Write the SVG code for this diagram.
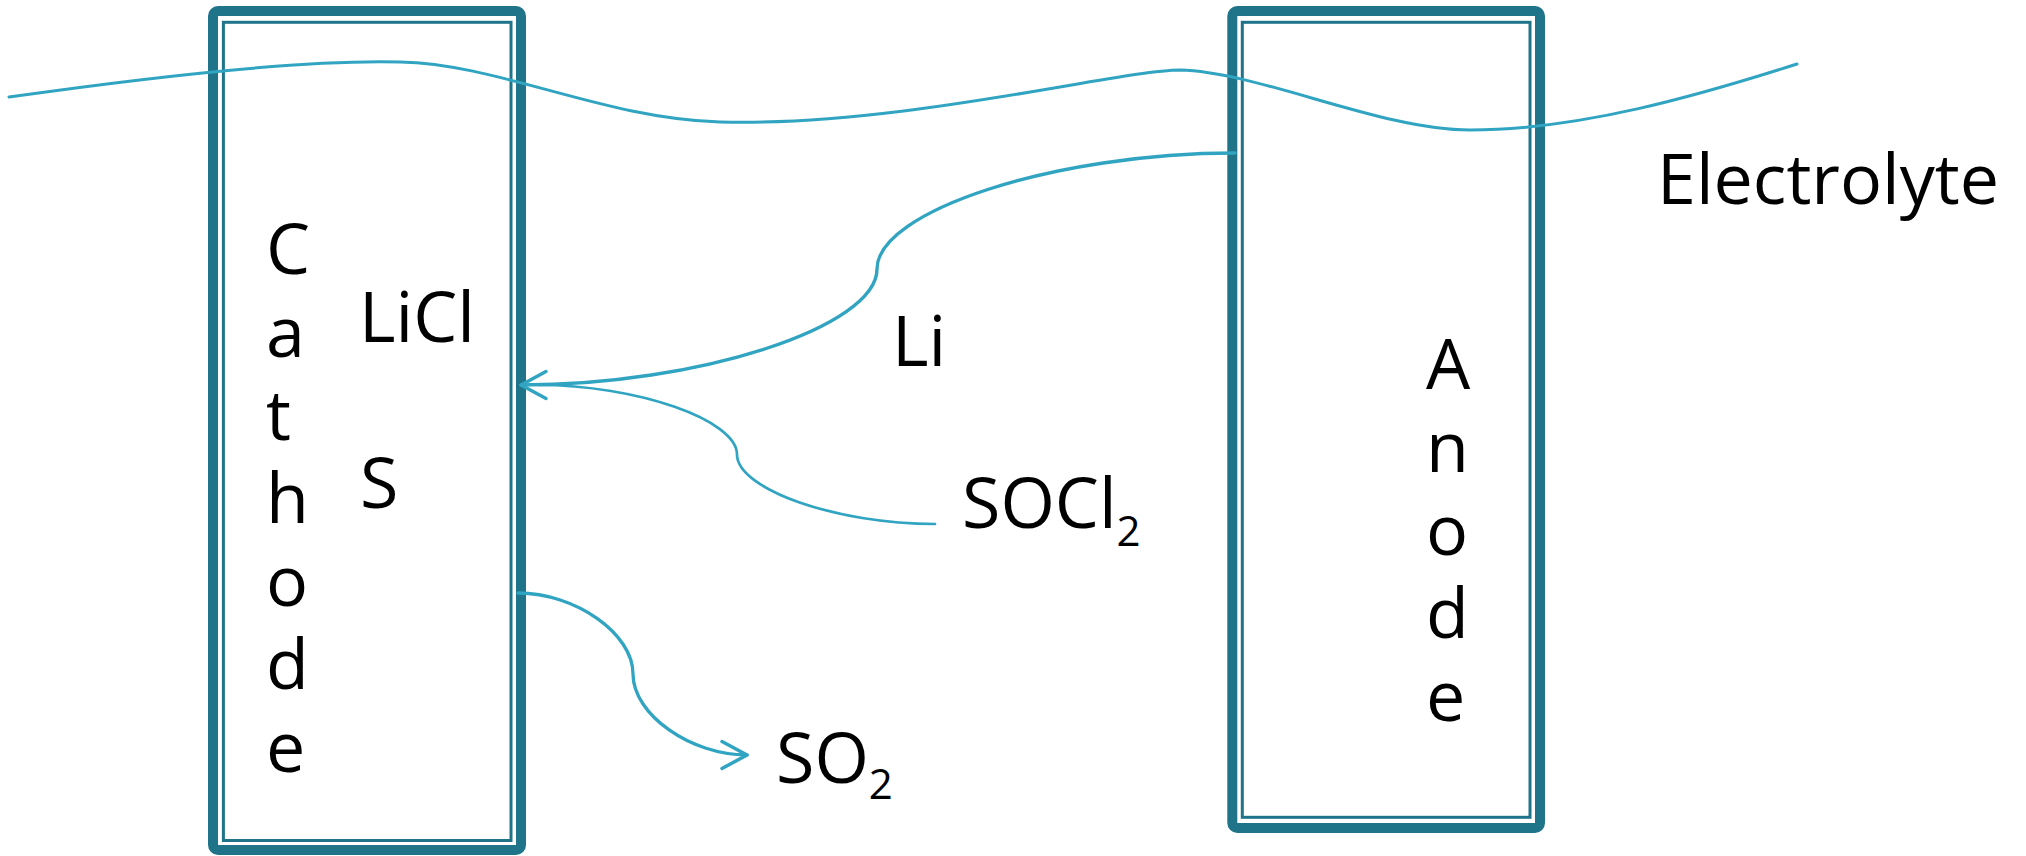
<svg xmlns="http://www.w3.org/2000/svg" width="2026" height="856" viewBox="0 0 2026 856">
<style>
.frame{fill:none;stroke:#1F7489;stroke-width:10;}
.inner{fill:none;stroke:#1F7489;stroke-width:3;}
.line{fill:none;stroke:#31A4C2;stroke-width:3;stroke-linecap:round;}
.lbl{font-family:"Open Sans","Noto Sans","Liberation Sans",sans-serif;font-size:70px;fill:#000;}
.sub{font-size:42px;}
</style>
<defs>
<marker id="arr" markerUnits="userSpaceOnUse" markerWidth="40" markerHeight="40" viewBox="-30 -20 40 40" refX="0" refY="0" orient="auto">
<path d="M-25,-13.5 L0,0 L-25,13.5" fill="none" stroke="#31A4C2" stroke-width="3.5" stroke-linecap="round" stroke-linejoin="round"/>
</marker>
</defs>
<rect width="2026" height="856" fill="#fff"/>
<g id="cathode">
<rect class="frame" x="213" y="11" width="308" height="839" rx="5"/>
<rect class="inner" x="223.4" y="22.3" width="287.6" height="818.2"/>
<text class="lbl" x="266" y="274">C<tspan x="266" dy="83">a</tspan><tspan x="266" dy="83">t</tspan><tspan x="266" dy="83">h</tspan><tspan x="266" dy="83">o</tspan><tspan x="266" dy="83">d</tspan><tspan x="266" dy="83">e</tspan></text>
<text class="lbl" x="359" y="342">LiCl</text>
<text class="lbl" x="360" y="508">S</text>
</g>
<g id="anode">
<rect class="frame" x="1232.3" y="11" width="307.7" height="817" rx="5"/>
<rect class="inner" x="1242.3" y="22.3" width="287.7" height="795"/>
<text class="lbl" x="1426" y="389">A<tspan x="1426" dy="83">n</tspan><tspan x="1426" dy="83">o</tspan><tspan x="1426" dy="83">d</tspan><tspan x="1426" dy="83">e</tspan></text>
</g>
<g id="connectors">
<path id="electrolyte-line" class="line" d="M9,97 C200,70 330,60 400,62 C500,64 600,118 720,122 C900,127 1120,70 1180,70 C1260,72 1380,130 1470,130 C1580,130 1700,95 1797,64"/>
<path id="li-arrow" class="line" style="stroke-width:3.4" d="M1235,153 C1055,153 877,211 877,269 C877,327 698,385 521,385" marker-end="url(#arr)"/>
<path id="socl2-line" class="line" style="stroke-width:2.7" d="M935,524 C836,524 737,489 737,454.5 C737,420 637,385 538,385"/>
<path id="so2-arrow" class="line" style="stroke-width:3.3" d="M518,593 C575.5,593 633,633.5 633,674 C633,714.5 690.5,755 747,755" marker-end="url(#arr)"/>
</g>
<g id="labels">
<text class="lbl" x="1657" y="204">Electrolyte</text>
<text class="lbl" x="892" y="366">Li</text>
<text class="lbl" x="962" y="528">SOCl<tspan class="sub" dy="18">2</tspan></text>
<text class="lbl" x="776" y="783">SO<tspan class="sub" dy="16">2</tspan></text>
</g>
</svg>
